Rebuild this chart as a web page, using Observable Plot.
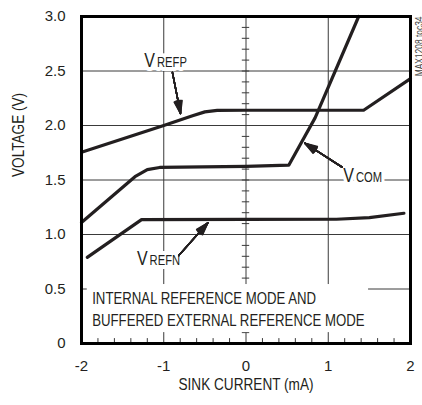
<!DOCTYPE html>
<html><head><meta charset="utf-8">
<script src="https://cdn.jsdelivr.net/npm/d3@7"></script>
<script src="https://cdn.jsdelivr.net/npm/@observablehq/plot@0.6"></script>
<style>
body{margin:0;background:#fff;}
</style></head><body><div id="chart"></div>
<script>
// Sink current (mA), voltage (V)
const vrefpX = [-2, -1, -0.65, -0.5, -0.35, 0, 1.43, 2];
const vrefpY = [1.755, 2.0, 2.09, 2.125, 2.138, 2.14, 2.14, 2.43];
const vcomX = [-2, -1.35, -1.2, -1.05, 0, 0.52, 0.84, 1.37];
const vcomY = [1.11, 1.53, 1.595, 1.615, 1.625, 1.636, 2.07, 3.0];
const vrefnX = [-1.93, -1.27, 0, 1.1, 1.5, 1.92];
const vrefnY = [0.79, 1.136, 1.138, 1.14, 1.155, 1.195];

const xTicks = [-2, -1, 0, 1, 2];
const xTickLabels = ["-2", "-1", "0", "1", "2"];
const yTicks = [0, 0.5, 1, 1.5, 2, 2.5, 3];
const yTickLabels = ["0", "0.5", "1.0", "1.5", "2.0", "2.5", "3.0"];
const xGrid = [-1, 0, 1];
const yGrid = [0.5, 1, 1.5, 2, 2.5];
const xMinor = [-1.8,-1.6,-1.4,-1.2,-0.8,-0.6,-0.4,-0.2,0.2,0.4,0.6,0.8,1.2,1.4,1.6,1.8];
const yMinor = [0.1,0.2,0.3,0.4,0.5,0.6,0.7,0.8,0.9,1.0,1.1,1.2,1.3,1.4,1.5,1.6,1.7,1.8,1.9,2.0,2.1,2.2,2.3,2.4,2.5,2.6,2.7,2.8,2.9];

// curve labels: main letter + subscript, anchored at junction / baseline
const labelNames = ["V", "V", "V"];
const labelSubs = ["REFP", "COM", "REFN"];
const labelX = [-1.10, 1.319, -1.19];
const labelY = [2.541, 1.480, 0.716];
// arrows: tail -> tip
const arrowX1 = [-0.894, 1.17, -0.817];
const arrowY1 = [2.486, 1.617, 0.807];
const arrowX2 = [-0.796, 0.715, -0.464];
const arrowY2 = [2.110, 1.838, 1.107];

const noteLines = ["INTERNAL REFERENCE MODE AND", "BUFFERED EXTERNAL REFERENCE MODE"];
const noteLineY = [0.358, 0.165];
const noteBox = {x1: -1.93, x2: 1.49, y1: 0.1, y2: 0.541};
const xLabel = "SINK CURRENT (mA)";
const yLabel = "VOLTAGE (V)";
const sideNote = "MAX1208 toc34";

const series = (xs, ys) => xs.map((x, i) => ({x, y: ys[i]}));
const labels = labelNames.map((n, i) => ({n, s: labelSubs[i], x: labelX[i], y: labelY[i]}));
const arrows = arrowX1.map((x1, i) => ({x1, y1: arrowY1[i], x2: arrowX2[i], y2: arrowY2[i]}));
const notes = noteLines.map((t, i) => ({t, y: noteLineY[i]}));

const ink = "#231f20";
const font = '"Liberation Sans", Arial, sans-serif';
const lineStyle = {x: "x", y: "y", stroke: ink, strokeWidth: 3.2, strokeLinejoin: "round"};
const fan = [0, 5, 10, 15, 20, 25, 30, 36].map(a =>
  Plot.arrow(arrows, {x1: "x1", y1: "y1", x2: "x2", y2: "y2", headAngle: a, headLength: 13, stroke: ink, strokeWidth: 1.5}));

const chart = Plot.plot({
  width: 422, height: 405,
  marginLeft: 81, marginRight: 12, marginTop: 16, marginBottom: 62,
  x: {domain: [-2, 2]},
  y: {domain: [0, 3]},
  style: {fontFamily: font, fontSize: "15px", color: ink, background: "white"},
  marks: [
    Plot.ruleY(yGrid, {stroke: "#3a3a3a", strokeWidth: 1}),
    Plot.ruleX(xGrid, {stroke: "#3a3a3a", strokeWidth: 1}),
    Plot.ruleY(yMinor, {x1: -0.045, x2: 0.045, stroke: "#3a3a3a", strokeWidth: 1}),
    Plot.ruleX(xMinor, {y1: 0, y2: 0.045, stroke: "#3a3a3a", strokeWidth: 1}),
    Plot.rect([noteBox], {x1: "x1", x2: "x2", y1: "y1", y2: "y2", fill: "white"}),
    Plot.text(notes, {x: -1.87, y: "y", text: "t", textAnchor: "start", lineAnchor: "bottom", fontSize: 16.5, fill: ink}),
    Plot.line(series(vrefpX, vrefpY), lineStyle),
    Plot.line(series(vcomX, vcomY), lineStyle),
    Plot.line(series(vrefnX, vrefnY), lineStyle),
    Plot.text(labels, {x: "x", y: "y", text: "n", textAnchor: "end", lineAnchor: "bottom", dx: -0.5, fontSize: 20, fill: ink, stroke: "white", strokeWidth: 8, paintOrder: "stroke"}),
    Plot.text(labels, {x: "x", y: "y", text: "s", textAnchor: "start", lineAnchor: "bottom", dx: 1.5, fontSize: 14, fill: ink, stroke: "white", strokeWidth: 8, paintOrder: "stroke"}),
    ...fan,
    Plot.frame({stroke: "black", strokeWidth: 3}),
    Plot.axisX({ticks: xTicks, tickFormat: (d) => xTickLabels[xTicks.indexOf(d)], tickSize: 0, tickPadding: 17, fontSize: 15, label: null}),
    Plot.axisY({ticks: yTicks, tickFormat: (d) => yTickLabels[yTicks.indexOf(d)], tickSize: 0, tickPadding: 16, fontSize: 15, label: null}),
    Plot.text([xLabel], {frameAnchor: "bottom", dy: 46, fontSize: 17, fill: ink}),
    Plot.text([yLabel], {frameAnchor: "left", dx: -63, dy: -3, rotate: -90, fontSize: 17, fill: ink}),
    Plot.text([sideNote], {frameAnchor: "top-right", dx: 5, rotate: -90, textAnchor: "end", fontSize: 10.5, fill: "#444"})
  ]
});
document.getElementById("chart").appendChild(chart);

// Condense non-tick text to mimic the narrow typeface of the original
chart.querySelectorAll("text").forEach(t => {
  if (t.closest('[aria-label$="tick label"]')) return;
  const spans = t.querySelectorAll("tspan");
  const parts = spans.length ? Array.from(spans) : [t];
  parts.forEach(p => {
    const L = p.getComputedTextLength();
    if (L > 0) {
      p.setAttribute("textLength", (L * 0.8).toFixed(2));
      p.setAttribute("lengthAdjust", "spacingAndGlyphs");
    }
  });
});
</script>
</body></html>
